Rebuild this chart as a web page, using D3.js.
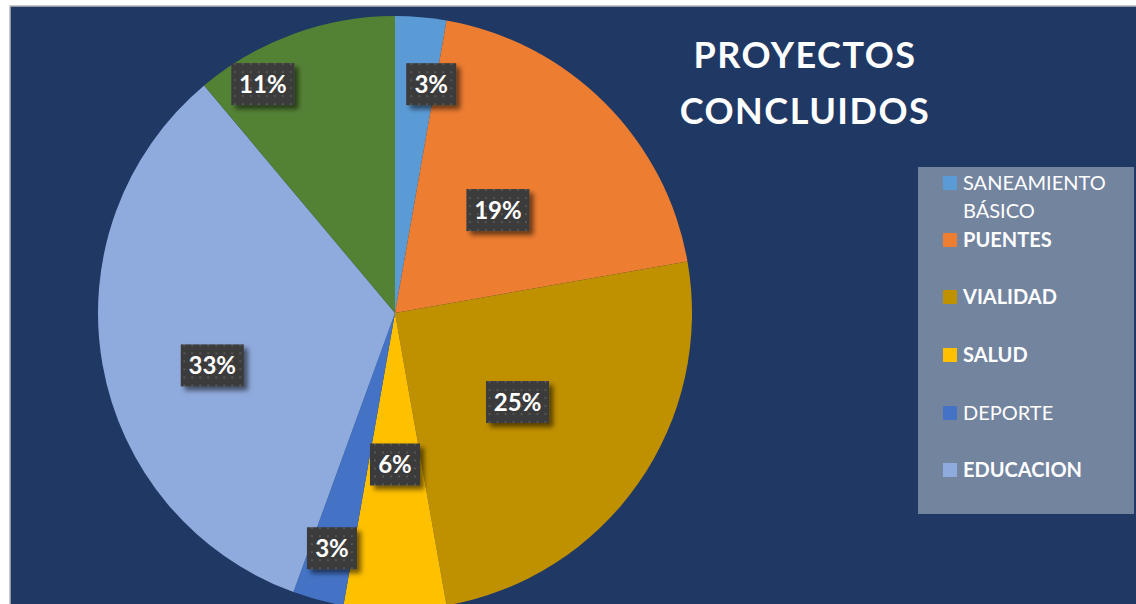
<!DOCTYPE html>
<html>
<head>
<meta charset="utf-8">
<script src="https://cdn.jsdelivr.net/npm/d3@7"></script>
<style>
  body { margin: 0; background: #fff; }
  svg { display: block; }
</style>
</head>
<body>
<div id="chart"></div>
<script>
// data (counts, 36 projects in total)
var categories = ["SANEAMIENTO BÁSICO", "PUENTES", "VIALIDAD", "SALUD", "DEPORTE", "EDUCACION", "OTROS"];
var values = [1, 7, 9, 2, 1, 12, 4];
var colors = ["#5B9BD5", "#ED7D31", "#BF9000", "#FFC000", "#4472C4", "#8FAADC", "#548235"];
var boldLegend = [false, true, true, true, false, true];
// where each data label sits (share of radius, small angle nudge in degrees)
var labelRadius = [0.78, 0.49, 0.51, 0.51, 0.82, 0.64, 0.89];
var labelNudge = [4, 0, 1, 0, 0, -6, -10];

var W = 1136, H = 604;
var svg = d3.select("#chart").append("svg").attr("width", W).attr("height", H);

var defs = svg.append("defs");
var pat = defs.append("pattern").attr("id", "dots")
  .attr("width", 8).attr("height", 8).attr("patternUnits", "userSpaceOnUse");
pat.append("rect").attr("width", 8).attr("height", 8).attr("fill", "#3b3b3b");
pat.append("rect").attr("x", 3).attr("y", 3).attr("width", 2).attr("height", 2).attr("fill", "#555");
var flt = defs.append("filter").attr("id", "shadow")
  .attr("x", "-30%").attr("y", "-30%").attr("width", "160%").attr("height", "160%");
flt.append("feDropShadow").attr("dx", 4).attr("dy", 4).attr("stdDeviation", 2.5)
  .attr("flood-color", "#000").attr("flood-opacity", 0.55);

// chart area
svg.append("rect").attr("x", 10).attr("y", 6).attr("width", W).attr("height", H)
  .attr("fill", "#203864").attr("stroke", "#b8b8b8").attr("stroke-width", 1.5);

var cx = 395, cy = 313, R = 297;
var g = svg.append("g").attr("transform", "translate(" + cx + "," + cy + ")");

var pie = d3.pie().sort(null).value(function (d) { return d; });
var arcs = pie(values);
var arc = d3.arc().innerRadius(0).outerRadius(R);

g.selectAll("path.slice")
  .data(arcs)
  .enter()
  .append("path")
  .attr("class", "slice")
  .attr("d", arc)
  .attr("fill", function (d, i) { return colors[i]; });

var total = d3.sum(values);
var labels = g.selectAll("g.lab")
  .data(arcs)
  .enter()
  .append("g")
  .attr("class", "lab")
  .attr("transform", function (d, i) {
    var a = (d.startAngle + d.endAngle) / 2 + labelNudge[i] * Math.PI / 180;
    var r = R * labelRadius[i];
    return "translate(" + (Math.sin(a) * r) + "," + (-Math.cos(a) * r) + ")";
  });

labels.each(function (d) {
  var lab = d3.select(this);
  var txt = Math.round(d.value / total * 100) + "%";
  var w = txt.length > 2 ? 63 : 50;
  lab.append("rect")
    .attr("x", -w / 2).attr("y", -21).attr("width", w).attr("height", 42)
    .attr("fill", "url(#dots)")
    .attr("filter", "url(#shadow)");
  lab.append("text")
    .attr("text-anchor", "middle")
    .attr("dy", "0.36em")
    .style("font-family", "Lato, 'Open Sans', sans-serif")
    .style("font-weight", "bold")
    .style("font-size", "24px")
    .attr("fill", "#fff")
    .text(txt);
});

// title
svg.selectAll("text.title")
  .data(["PROYECTOS", "CONCLUIDOS"])
  .enter()
  .append("text")
  .attr("class", "title")
  .attr("x", 805)
  .attr("y", function (d, i) { return 68 + i * 56; })
  .attr("text-anchor", "middle")
  .style("font-family", "Lato, 'Open Sans', sans-serif")
  .style("font-weight", "bold")
  .style("font-size", "36px")
  .style("letter-spacing", "1.5px")
  .attr("fill", "#fff")
  .text(function (d) { return d; });

// legend
var lg = svg.append("g");
lg.append("rect").attr("x", 918).attr("y", 167).attr("width", 216).attr("height", 347)
  .attr("fill", "#73849f");

var rowY = [183, 240, 297, 355, 413, 470];
var items = lg.selectAll("g.item")
  .data(categories.slice(0, 6))
  .enter()
  .append("g")
  .attr("class", "item")
  .attr("transform", function (d, i) { return "translate(943," + rowY[i] + ")"; });

items.append("rect")
  .attr("x", 0).attr("y", -7).attr("width", 14).attr("height", 14)
  .attr("fill", function (d, i) { return colors[i]; });

items.append("text")
  .attr("x", 20)
  .style("font-family", "Lato, 'Open Sans', sans-serif")
  .style("font-size", "20px")
  .style("font-weight", function (d, i) { return boldLegend[i] ? "bold" : "normal"; })
  .attr("fill", "#fff")
  .each(function (d) {
    var parts = d.split(" ");
    var t = d3.select(this);
    parts.forEach(function (p, k) {
      t.append("tspan").attr("x", 20).attr("y", 7 + k * 28).text(p);
    });
  });
</script>
</body>
</html>
